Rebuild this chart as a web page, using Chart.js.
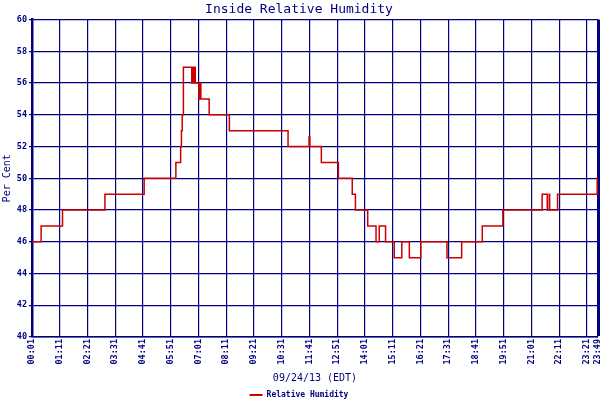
<!DOCTYPE html>
<html>
<head>
<meta charset="utf-8">
<script src="https://cdn.jsdelivr.net/npm/chart.js@4"></script>
<style>
  html, body { margin: 0; padding: 0; background: #fff; }
  #wrap { width: 600px; height: 400px; }
</style>
</head>
<body>
<div id="wrap"><canvas id="rh-chart"></canvas></div>
<script>
// readings, 09/24/13
const times = ['00:01', '00:24', '01:18', '03:05', '04:44', '06:04', '06:16', '06:18', '06:20', '06:23',
    '06:44', '06:46', '06:48', '06:51', '06:53', '07:02', '07:05', '07:07', '07:28', '08:19',
    '10:47', '11:40', '11:42', '12:11', '12:54', '13:29', '13:37', '14:08', '14:29', '14:37',
    '14:53', '15:15', '15:34', '15:53', '16:22', '17:28', '18:05', '18:57', '19:49', '21:28',
    '21:41', '21:46', '21:47', '22:07', '23:47', '23:49'];
const humidity = [46, 47, 48, 49, 50, 51, 52, 53, 54, 57,
    56, 57, 56, 57, 56, 55, 56, 55, 54, 53,
    52, 52.6, 52, 51, 50, 49, 48, 47, 46, 47,
    46, 45, 46, 45, 46, 45, 46, 47, 48, 49,
    48, 49, 48, 49, 50, 50];
const tickLabels = ['00:01', '01:11', '02:21', '03:31', '04:41', '05:51', '07:01', '08:11', '09:21', '10:31',
    '11:41', '12:51', '14:01', '15:11', '16:21', '17:31', '18:41', '19:51', '21:01', '22:11',
    '23:21', '23:49'];

const NAVY = '#000080';
const RED = '#cc0000';
const MONO = "'DejaVu Sans Mono', 'Liberation Mono', monospace";

function toMinutes(t) {
    const parts = t.split(':');
    return parseInt(parts[0]) * 60 + parseInt(parts[1]);
}

function toClock(m) {
    const h = Math.floor(m / 60);
    const mm = m % 60;
    return String(h).padStart(2, '0') + ':' + String(mm).padStart(2, '0');
}

const points = times.map((t, i) => ({ x: toMinutes(t), y: humidity[i] }));
const tickMinutes = tickLabels.map(toMinutes);

const ctx = document.getElementById('rh-chart').getContext('2d');
const rhChart = new Chart(ctx, {
    type: 'line',
    data: {
        datasets: [{
            label: 'Relative Humidity',
            data: points,
            borderColor: RED,
            backgroundColor: RED,
            borderWidth: 1.5,
            pointRadius: 0,
            stepped: true,
            fill: false
        }]
    },
    options: {
        responsive: true,
        maintainAspectRatio: false,
        animation: false,
        layout: {
            padding: { left: 0, right: 2, top: 0, bottom: -9 }
        },
        scales: {
            x: {
                type: 'linear',
                min: tickMinutes[0],
                max: tickMinutes[tickMinutes.length - 1],
                afterBuildTicks: scale => {
                    scale.ticks = tickMinutes.map(v => ({ value: v }));
                },
                afterFit: scale => {
                    scale.height = 52;
                    scale.paddingLeft = 0;
                    scale.paddingRight = 0;
                },
                ticks: {
                    autoSkip: false,
                    minRotation: 90,
                    maxRotation: 90,
                    padding: 2,
                    color: NAVY,
                    font: { family: MONO, size: 8.5, weight: 'bold' },
                    callback: value => toClock(value)
                },
                grid: {
                    color: NAVY,
                    drawTicks: false,
                    lineWidth: c => (c.index === tickMinutes.length - 1 ? 3 : 1.2)
                },
                border: { color: NAVY, width: 1.5 },
                title: {
                    display: true,
                    text: '09/24/13 (EDT)',
                    color: NAVY,
                    font: { family: MONO, size: 10 },
                    padding: { top: 0, bottom: 5 }
                }
            },
            y: {
                min: 40,
                max: 60,
                afterFit: scale => {
                    scale.width = 32;
                    scale.paddingTop = 0;
                    scale.paddingBottom = 0;
                },
                ticks: {
                    stepSize: 2,
                    padding: 2,
                    color: NAVY,
                    font: { family: MONO, size: 8.5, weight: 'bold' }
                },
                grid: {
                    color: NAVY,
                    lineWidth: 1.2,
                    tickLength: 3
                },
                border: { color: NAVY, width: 2.5 },
                title: {
                    display: true,
                    text: 'Per Cent',
                    color: NAVY,
                    font: { family: MONO, size: 10 },
                    padding: { top: 1, bottom: 1 }
                }
            }
        },
        plugins: {
            title: {
                display: true,
                text: 'Inside Relative Humidity',
                color: NAVY,
                font: { family: MONO, size: 13, weight: 'normal' },
                padding: { top: 2, bottom: 2 }
            },
            legend: {
                display: true,
                position: 'bottom',
                labels: {
                    color: NAVY,
                    boxWidth: 13,
                    boxHeight: 2,
                    padding: 2,
                    font: { family: MONO, size: 8, weight: 'bold' },
                    generateLabels: chart => Chart.defaults.plugins.legend.labels.generateLabels(chart)
                        .map(item => Object.assign(item, { lineWidth: 0 }))
                }
            },
            tooltip: { enabled: false }
        }
    }
});
</script>
</body>
</html>
